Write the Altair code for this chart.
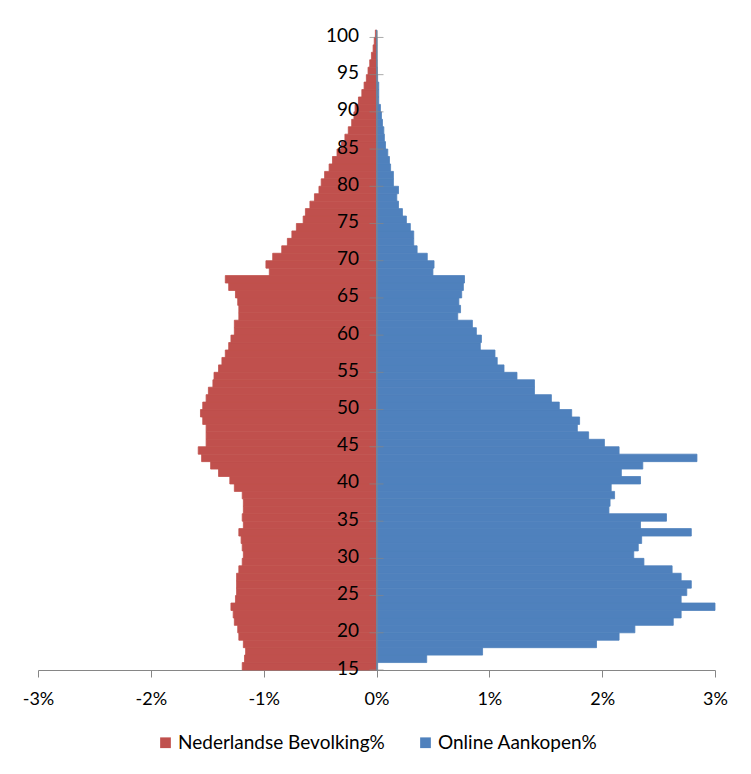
import altair as alt
import pandas as pd

# Ages (one bar per year of age)
ages = list(range(15, 101))

# Nederlandse Bevolking% (share per age, shown to the left)
nl_pct = [
    1.19, 1.17, 1.16, 1.18, 1.22, 1.23, 1.26, 1.27, 1.29, 1.25,   # 15-24
    1.24, 1.24, 1.24, 1.22, 1.19, 1.18, 1.19, 1.20, 1.22, 1.18,   # 25-34
    1.19, 1.18, 1.18, 1.19, 1.26, 1.30, 1.40, 1.47, 1.55, 1.58,   # 35-44
    1.51, 1.51, 1.51, 1.54, 1.56, 1.54, 1.51, 1.49, 1.45, 1.44,   # 45-54
    1.40, 1.37, 1.34, 1.31, 1.29, 1.26, 1.26, 1.22, 1.22, 1.23,   # 55-64
    1.25, 1.31, 1.34, 0.95, 0.98, 0.92, 0.84, 0.79, 0.75, 0.71,   # 65-74
    0.65, 0.63, 0.59, 0.55, 0.51, 0.49, 0.46, 0.42, 0.39, 0.35,   # 75-84
    0.31, 0.28, 0.25, 0.22, 0.20, 0.19, 0.16, 0.13, 0.11, 0.09,   # 85-94
    0.075, 0.06, 0.045, 0.03, 0.02, 0.01,                         # 95-100
]

# Online Aankopen% (share per age, shown to the right)
online_pct = [
    0.01, 0.445, 0.94, 1.95, 2.15, 2.29, 2.63, 2.70, 3.00, 2.70,  # 15-24
    2.75, 2.79, 2.70, 2.62, 2.37, 2.28, 2.32, 2.35, 2.79, 2.34,   # 25-34
    2.57, 2.06, 2.07, 2.11, 2.08, 2.34, 2.17, 2.36, 2.84, 2.15,   # 35-44
    2.02, 1.88, 1.78, 1.80, 1.73, 1.62, 1.55, 1.40, 1.40, 1.245,  # 45-54
    1.13, 1.07, 1.05, 0.92, 0.93, 0.885, 0.85, 0.72, 0.745, 0.73, # 55-64
    0.755, 0.77, 0.78, 0.50, 0.51, 0.45, 0.36, 0.33, 0.33, 0.30,  # 65-74
    0.265, 0.23, 0.195, 0.18, 0.195, 0.15, 0.15, 0.125, 0.115, 0.10,  # 75-84
    0.08, 0.07, 0.065, 0.053, 0.044, 0.035, 0.02, 0.02, 0.02, 0.01,   # 85-94
    0.008, 0.006, 0.005, 0.005, 0.005, 0.003,                     # 95-100
]

y_tick_values = list(range(15, 101, 5))
x_tick_values = [-3, -2, -1, 0, 1, 2, 3]
series_names = ["Nederlandse Bevolking%", "Online Aankopen%"]
series_colors = ["#C0504D", "#4F81BD"]

rows = []
for a, v in zip(ages, nl_pct):
    rows.append({"age": a, "top": a + 1, "series": series_names[0], "value": -v})
for a, v in zip(ages, online_pct):
    rows.append({"age": a, "top": a + 1, "series": series_names[1], "value": v})
df = pd.DataFrame(rows)
tick_df = pd.DataFrame({"age": y_tick_values})

W, H = 677, 640
AXIS_GRAY = "#868686"
FONT = "Lato"

color_scale = alt.Scale(domain=series_names, range=series_colors)
x_scale = alt.Scale(domain=[-3, 3], nice=False, zero=False)
y_scale = alt.Scale(domain=[15, 101], nice=False, zero=False)

x_axis = alt.Axis(
    values=x_tick_values,
    labelExpr="datum.value + '%'",
    grid=False,
    title=None,
    domainColor=AXIS_GRAY,
    tickColor=AXIS_GRAY,
    tickSize=7,
    labelFont=FONT,
    labelFontSize=18,
    labelColor="#000000",
    labelPadding=13,
    labelFlush=False,
    labelOverlap=False,
)

y_axis = alt.Axis(
    values=y_tick_values,
    orient="left",
    offset=-W / 2,
    grid=False,
    ticks=False,
    tickSize=0,
    title=None,
    domainColor=AXIS_GRAY,
    labelFont=FONT,
    labelFontSize=19,
    labelColor="#000000",
    labelPadding=18,
    labelOffset=-2,
    labelOverlap=False,
    zindex=1,
)

bars = alt.Chart(df).mark_bar(
    strokeWidth=0.8, opacity=1, fillOpacity=1, strokeOpacity=1
).encode(
    x=alt.X("value:Q", scale=x_scale, axis=x_axis),
    x2=alt.datum(0),
    y=alt.Y("age:Q", scale=y_scale, axis=y_axis),
    y2="top:Q",
    color=alt.Color(
        "series:N",
        scale=color_scale,
        legend=alt.Legend(
            title=None,
            orient="none",
            legendX=118,
            legendY=703,
            direction="horizontal",
            symbolType="square",
            symbolSize=115,
            symbolStrokeWidth=0,
            symbolOpacity=1,
            labelFont=FONT,
            labelFontSize=19,
            labelColor="#000000",
            labelLimit=400,
            labelOffset=3,
            columnPadding=31,
            padding=0,
        ),
    ),
    stroke=alt.Stroke("series:N", scale=color_scale, legend=None),
)

ticks = alt.Chart(tick_df).mark_tick(
    orient="horizontal", size=14, thickness=1, color=AXIS_GRAY
).encode(
    x=alt.X("zero:Q", scale=x_scale, axis=x_axis),
    y=alt.Y("age:Q", scale=y_scale, axis=y_axis),
).transform_calculate(zero="0")

chart = alt.layer(bars, ticks).properties(
    width=W,
    height=H,
    autosize=alt.AutoSizeParams(type="none"),
    padding={"left": 30, "top": 22, "right": 28, "bottom": 96},
).configure(background="white").configure_view(stroke=None)

chart.save("out.html", embed_options={"renderer": "svg", "actions": False})
